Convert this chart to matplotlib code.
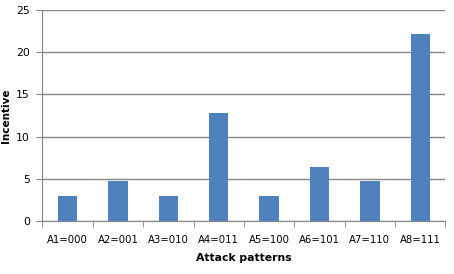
import numpy as np
import matplotlib
matplotlib.use("Agg")
import matplotlib.pyplot as plt

categories = ["A1=000", "A2=001", "A3=010", "A4=011", "A5=100", "A6=101", "A7=110", "A8=111"]
incentive = [3.0, 4.75, 3.0, 12.85, 3.0, 6.43, 4.75, 22.2]

fig = plt.figure(figsize=(4.54, 2.74), dpi=100)
ax = fig.add_axes([0.0936, 0.1934, 0.8875, 0.7701])

x = np.arange(len(categories))
ax.bar(x, incentive, width=0.385, color="#4F81BD", zorder=3)

ax.set_xlim(-0.5, len(categories) - 0.5)
ax.set_ylim(0, 25)
ax.set_yticks([0, 5, 10, 15, 20, 25])
ax.yaxis.grid(True, color="#868686", linewidth=1, zorder=0)

ax.set_xticks(x)
ax.set_xticklabels(categories, fontsize=7.3)
ax.set_xticks(np.arange(len(categories) + 1) - 0.5, minor=True)
ax.tick_params(axis="x", which="major", length=0, pad=10)
ax.tick_params(axis="x", which="minor", length=4, color="#868686")
ax.tick_params(axis="y", length=4, color="#868686", labelsize=7.8, pad=5)

for side in ["top", "right"]:
    ax.spines[side].set_visible(False)
for side in ["left", "bottom"]:
    ax.spines[side].set_color("#868686")

ax.set_xlabel("Attack patterns", fontsize=7.8, fontweight="bold", labelpad=6)
ax.set_ylabel("Incentive", fontsize=7.5, fontweight="bold")
ax.yaxis.set_label_coords(-0.077, 0.5)

fig.savefig("out.png", dpi=100)
